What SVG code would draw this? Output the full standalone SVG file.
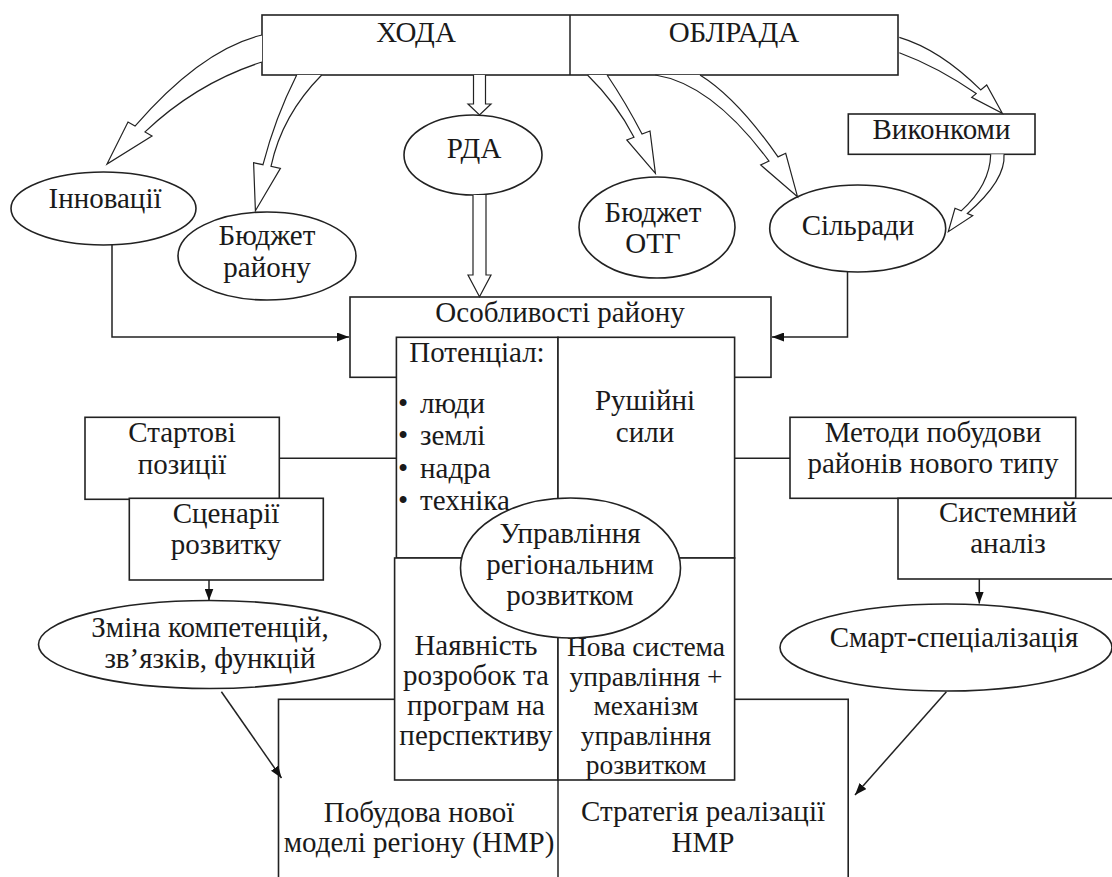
<svg xmlns="http://www.w3.org/2000/svg" width="1112" height="877" viewBox="0 0 1112 877">
<defs>
<style>
.b{fill:#fff;stroke:#222;stroke-width:1.6}
.t{font-family:"Liberation Serif","Times New Roman",serif;font-size:29px;fill:#1a1a1a;text-anchor:middle}
.s{font-size:27.5px}
.l{text-anchor:start}
.c{fill:none;stroke:#222;stroke-width:1.5}
.ba{fill:#fff;stroke:#222;stroke-width:1.2;stroke-linejoin:miter}
</style>
<marker id="ah" viewBox="0 0 12 9" refX="12" refY="4.5" markerWidth="12" markerHeight="9" markerUnits="userSpaceOnUse" orient="auto">
<path d="M0,0 L12,4.5 L0,9 z" fill="#111"/>
</marker>
</defs>
<rect width="1112" height="877" fill="#fff"/>

<g id="top">
<rect class="b" x="262" y="15" width="636" height="60"/>
<line class="c" x1="570" y1="15" x2="570" y2="75"/>
<text class="t" x="416" y="42">ХОДА</text>
<text class="t" x="734" y="42">ОБЛРАДА</text>
</g>
<g id="innovacii">
<ellipse class="b" cx="103.5" cy="208.5" rx="92.5" ry="36.5"/>
<text class="t" x="105" y="208">Інновації</text>
</g>
<g id="budget-rayonu">
<ellipse class="b" cx="267" cy="256" rx="89" ry="44"/>
<text class="t" x="267" y="245">Бюджет</text>
<text class="t" x="267" y="277">району</text>
</g>
<g id="rda">
<ellipse class="b" cx="473" cy="155" rx="69" ry="40"/>
<text class="t" x="474" y="158">РДА</text>
</g>
<g id="budget-otg">
<ellipse class="b" cx="657" cy="227.5" rx="78" ry="50.5"/>
<text class="t" x="653" y="222">Бюджет</text>
<text class="t" x="653" y="253">ОТГ</text>
</g>
<g id="silrady">
<ellipse class="b" cx="857.7" cy="228.5" rx="88" ry="43.5"/>
<text class="t" x="858" y="235">Сільради</text>
</g>
<g id="vykonkomy">
<rect class="b" x="848.3" y="114" width="186.7" height="40.3"/>
<text class="t" x="941.5" y="139">Виконкоми</text>
</g>

<g id="bottom-box">
<rect class="b" x="278.5" y="699.3" width="569.7" height="200"/>
<line class="c" x1="558" y1="699.3" x2="558" y2="880"/>
<text class="t" x="419" y="822">Побудова нової</text>
<text class="t" x="419" y="852">моделі регіону (НМР)</text>
<text class="t" x="703" y="821">Стратегія реалізації</text>
<text class="t" x="703" y="852">НМР</text>
</g>
<g id="osoblyvosti">
<rect class="b" x="350" y="297" width="421" height="80.3"/>
<text class="t" x="560" y="322">Особливості району</text>
</g>
<g id="potencial">
<rect class="b" x="396.4" y="337.3" width="161.6" height="220.7"/>
<text class="t" x="477" y="362">Потенціал:</text>
<text class="t l" x="398" y="413">•</text><text class="t l" x="420" y="413">люди</text>
<text class="t l" x="398" y="445">•</text><text class="t l" x="420" y="445">землі</text>
<text class="t l" x="398" y="478">•</text><text class="t l" x="420" y="478">надра</text>
<text class="t l" x="398" y="510">•</text><text class="t l" x="420" y="510">техніка</text>
</g>
<g id="rushiyni">
<rect class="b" x="558" y="337.3" width="176.6" height="220.7"/>
<text class="t" x="645" y="410">Рушійні</text>
<text class="t" x="645" y="442">сили</text>
</g>
<g id="nayavnist">
<rect class="b" x="394.6" y="558" width="163.4" height="222"/>
<text class="t" x="476" y="655">Наявність</text>
<text class="t" x="476" y="685">розробок та</text>
<text class="t" x="476" y="715">програм на</text>
<text class="t" x="476" y="745">перспективу</text>
</g>
<g id="nova-systema">
<rect class="b" x="558" y="558" width="176.6" height="222"/>
<text class="t s" x="646" y="656">Нова система</text>
<text class="t s" x="646" y="685.5">управління +</text>
<text class="t s" x="646" y="715">механізм</text>
<text class="t s" x="646" y="744.5">управління</text>
<text class="t s" x="646" y="774">розвитком</text>
</g>
<g id="upravlinnia">
<ellipse class="b" cx="570.5" cy="568" rx="110" ry="70"/>
<text class="t" x="570" y="543">Управління</text>
<text class="t" x="570" y="574">регіональним</text>
<text class="t" x="570" y="605">розвитком</text>
</g>
<g id="startovi">
<rect class="b" x="85" y="417.3" width="194.3" height="82"/>
<text class="t" x="182" y="442">Стартові</text>
<text class="t" x="182" y="474">позиції</text>
</g>
<g id="scenarii">
<rect class="b" x="129.3" y="498.3" width="194" height="81.7"/>
<text class="t" x="226" y="523">Сценарії</text>
<text class="t" x="226" y="554">розвитку</text>
</g>
<g id="zmina">
<ellipse class="b" cx="209.5" cy="644.5" rx="171" ry="44"/>
<text class="t" x="210" y="637">Зміна компетенцій,</text>
<text class="t" x="210" y="668">зв’язків, функцій</text>
</g>
<g id="metody">
<rect class="b" x="790" y="417.3" width="285.7" height="81"/>
<text class="t" x="933" y="442">Методи побудови</text>
<text class="t" x="933" y="473">районів нового типу</text>
</g>
<g id="systemnyi">
<rect class="b" x="898" y="498.3" width="222" height="80.7"/>
<text class="t" x="1008" y="522">Системний</text>
<text class="t" x="1008" y="553">аналіз</text>
</g>
<g id="smart">
<ellipse class="b" cx="946" cy="647.5" rx="166" ry="43.5"/>
<text class="t" x="954" y="647">Смарт-спеціалізація</text>
</g>

<g id="connectors">
<path class="ba" d="M262,35 Q201.5,49.5 135,126.1 L128,122 L107,164 L152,136 L145,131.9 Q196.5,83 262,62"/>
<path class="ba" d="M296.7,75 Q275,118 263,164.7 L253.6,162.7 L255.4,210.7 L280.4,168.3 L271,166.3 Q282,115 321.7,75"/>
<path class="ba" d="M473.5,75 V104 H468 L479.5,115 L491,104 H485.5 V75"/>
<path class="ba" d="M473,195 V275 H468 L479.5,296.7 L491,275 H486 V195"/>
<path class="ba" d="M587.5,75 Q617,104 634,137.2 L626.8,140 L655.4,173.3 L650,131 L642,134.1 Q626,103 607.1,75"/>
<path class="ba" d="M655.4,75 Q712,84 769,161.1 L760.7,165 L797.5,196.7 L785.7,153.3 L778,156.9 Q737,98 700,75"/>
<path class="ba" d="M899.3,37.3 Q940,49.4 980.7,89.9 L986.7,85 L1002.3,113.3 L971.7,97.3 L976.2,93.6 Q938,67 899.3,52.7"/>
<path class="ba" d="M1004,154.3 Q1006,180 967.4,213.5 L972.7,215.7 L948.3,231.7 L955,208.3 L961.2,210.9 Q990,185 990.7,154.3"/>
<path class="c" d="M112,245 V337 H349" marker-end="url(#ah)"/>
<path class="c" d="M847.5,272 V337 H772" marker-end="url(#ah)"/>
<path class="c" d="M279.3,458.3 H396.4"/>
<path class="c" d="M734.6,458.3 H790"/>
<path class="c" d="M209,580 V600.5" marker-end="url(#ah)"/>
<path class="c" d="M979.3,579 V603.5" marker-end="url(#ah)"/>
<path class="c" d="M221.4,691.7 L281.5,778" marker-end="url(#ah)"/>
<path class="c" d="M946.4,691.7 L855,795" marker-end="url(#ah)"/>
</g>
</svg>
